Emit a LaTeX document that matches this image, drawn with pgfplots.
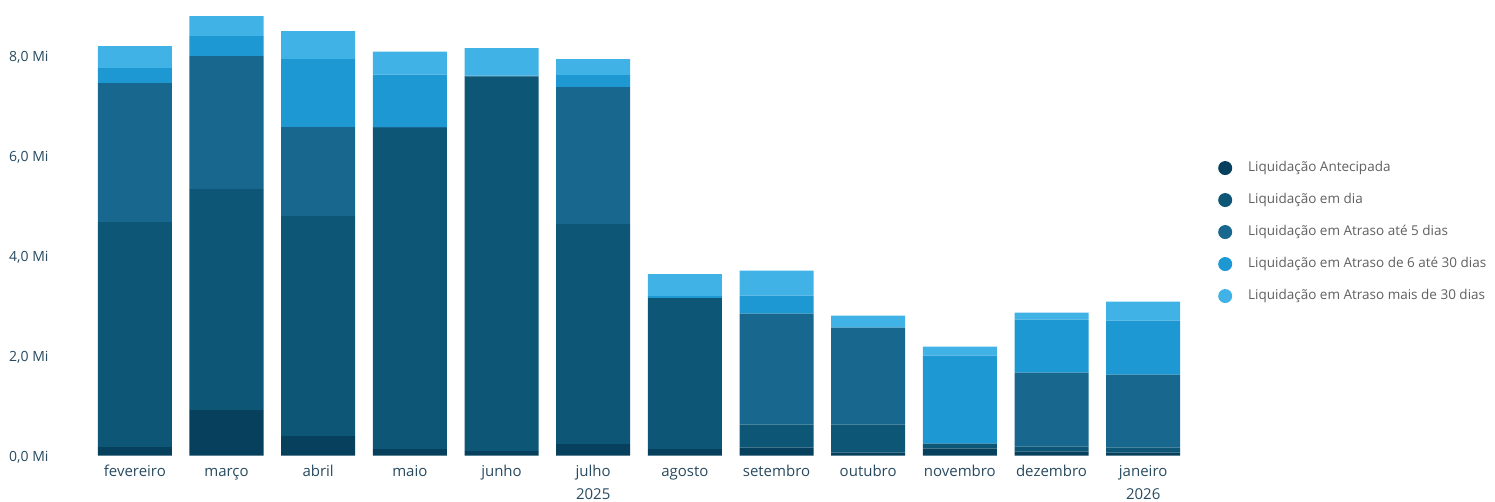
\documentclass[border=0pt]{standalone}
\usepackage{fontspec}
\setmainfont{Open Sans}
\usepackage{pgfplots}
\usepackage{pgfplotstable}
\pgfplotsset{compat=1.18}

\definecolor{cAnt}{RGB}{6,64,92}
\definecolor{cDia}{RGB}{14,86,117}
\definecolor{cAt5}{RGB}{23,103,142}
\definecolor{cAt30}{RGB}{29,152,211}
\definecolor{cMais}{RGB}{65,178,230}
\definecolor{labelc}{RGB}{40,74,96}
\definecolor{legc}{RGB}{96,96,96}

% valores em milhoes (Mi)
\pgfplotstableread{
x Ant Dia At5 At30 Mais
0 0.17 4.50 2.78 0.30 0.44
1 0.91 4.42 2.66 0.40 0.40
2 0.39 4.40 1.78 1.36 0.56
3 0.13 6.42 0.02 1.05 0.46
4 0.09 7.49 0.01 0.01 0.55
5 0.23 4.40 2.74 0.24 0.32
6 0.13 3.02 0.00 0.04 0.44
7 0.16 0.46 2.22 0.36 0.50
8 0.06 0.56 1.94 0.00 0.24
9 0.14 0.10 0.00 1.76 0.18
10 0.08 0.10 1.48 1.06 0.14
11 0.06 0.10 1.46 1.08 0.38
}\dados

\begin{document}
\begin{tikzpicture}
\useasboundingbox (0,0) rectangle (1495pt,502pt);
\begin{axis}[
    at={(89pt,46.3pt)}, anchor=south west,
    scale only axis,
    width=1100pt, height=450pt,
    ybar stacked, bar width=74pt, bar shift=0pt,
    xmin=-0.5, xmax=11.5,
    ymin=0, ymax=9,
    axis line style={draw=none},
    major tick style={draw=none},
    xtick=data,
    xticklabels={fevereiro,março,abril,maio,junho,julho,agosto,setembro,outubro,novembro,dezembro,janeiro},
    xticklabel style={font=\fontsize{15}{18}\selectfont, text=labelc,
        execute at begin node=\strut, inner sep=3pt, yshift=-5.5pt},
    extra x ticks={5,11},
    extra x tick labels={2025,2026},
    extra x tick style={xticklabel style={yshift=-23pt}},
    ytick={0,2,4,6,8},
    yticklabels={{0,0 Mi},{2,0 Mi},{4,0 Mi},{6,0 Mi},{8,0 Mi}},
    yticklabel style={font=\fontsize{14}{17}\selectfont, text=labelc, xshift=-37pt, yshift=-1.5pt},
    legend cell align=left,
    legend style={
        at={(axis description cs:1,0.497)}, anchor=west, xshift=29pt,
        draw=none, fill=none, inner sep=0pt,
        font=\fontsize{13.5}{16}\selectfont, text=legc,
        row sep=18pt, column sep=16pt,
        nodes={inner sep=0pt, text height=9.5pt, text depth=3pt},
    },
]
\addplot[fill=cAnt, draw=none, legend image code/.code={\fill[cAnt] (7pt,0pt) circle (7pt);}] table[x=x, y=Ant] {\dados};
\addlegendentry{Liquidação Antecipada}
\addplot[fill=cDia, draw=none, legend image code/.code={\fill[cDia] (7pt,0pt) circle (7pt);}] table[x=x, y=Dia] {\dados};
\addlegendentry{Liquidação em dia}
\addplot[fill=cAt5, draw=none, legend image code/.code={\fill[cAt5] (7pt,0pt) circle (7pt);}] table[x=x, y=At5] {\dados};
\addlegendentry{Liquidação em Atraso até 5 dias}
\addplot[fill=cAt30, draw=none, legend image code/.code={\fill[cAt30] (7pt,0pt) circle (7pt);}] table[x=x, y=At30] {\dados};
\addlegendentry{Liquidação em Atraso de 6 até 30 dias}
\addplot[fill=cMais, draw=none, legend image code/.code={\fill[cMais] (7pt,0pt) circle (7pt);}] table[x=x, y=Mais] {\dados};
\addlegendentry{Liquidação em Atraso mais de 30 dias}
\end{axis}
\end{tikzpicture}
\end{document}
